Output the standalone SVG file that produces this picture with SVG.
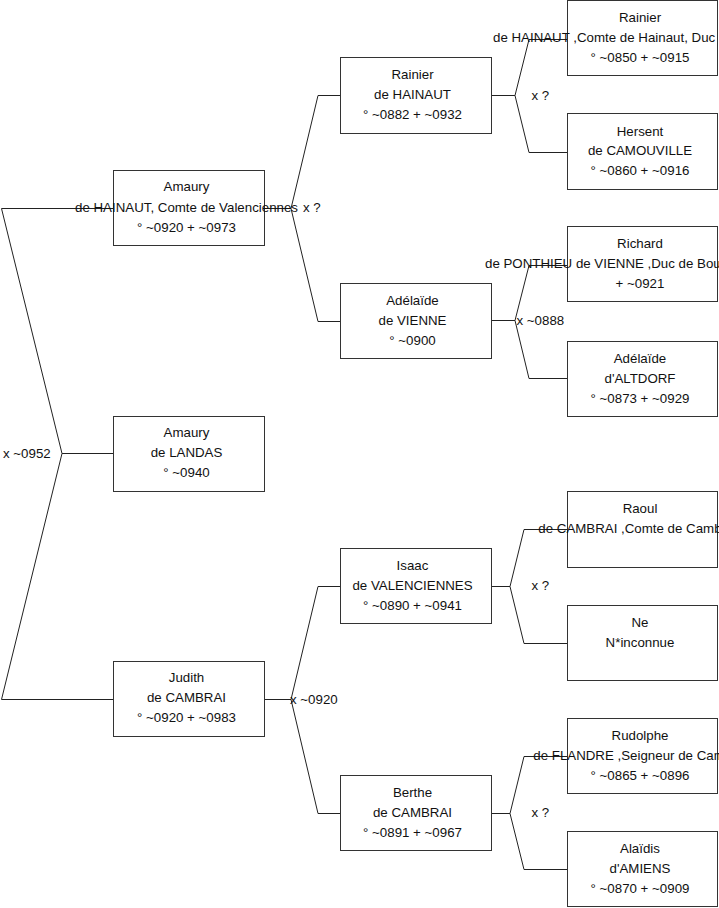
<svg xmlns="http://www.w3.org/2000/svg" width="719" height="908" viewBox="0 0 719 908">
<style>
.box{fill:#fff;stroke:#333;stroke-width:1}
.c{fill:none;stroke:#222;stroke-width:1}
text{font-family:"Liberation Sans",Arial,sans-serif;font-size:13.3px;fill:#111}
.m{text-anchor:middle}
</style>
<rect width="719" height="908" fill="#fff"/>
<g id="connectors">
<polyline class="c" points="113.5,208.5 1.5,208.5 62,453.5 1.5,699.5 113.5,699.5"/>
<line class="c" x1="62" y1="453.5" x2="113.5" y2="453.5"/>
<polyline class="c" points="264.5,208.5 291,208.5"/>
<polyline class="c" points="340.5,95.5 318,95.5 291,208.5 318,321.5 340.5,321.5"/>
<polyline class="c" points="264.5,699.5 291,699.5"/>
<polyline class="c" points="340.5,586.5 318,586.5 291,699.5 318,813.5 340.5,813.5"/>
<polyline class="c" points="491.5,95.5 515,95.5"/>
<polyline class="c" points="567.5,39.5 529,39.5 515,95.5 529,152.5 567.5,152.5"/>
<polyline class="c" points="491.5,320.5 515,320.5"/>
<polyline class="c" points="567.5,265.5 529,265.5 515,320.5 529,378.5 567.5,378.5"/>
<polyline class="c" points="491.5,586.5 510,586.5"/>
<polyline class="c" points="567.5,529.5 524,529.5 510,586.5 524,643.5 567.5,643.5"/>
<polyline class="c" points="491.5,813.5 510,813.5"/>
<polyline class="c" points="567.5,756.5 524,756.5 510,813.5 524,869.5 567.5,869.5"/>
</g>
<g id="labels">
<text x="3" y="457.5">x ~0952</text>
<text x="303" y="212">x ?</text>
<text x="290" y="703.5">x ~0920</text>
<text x="531.5" y="99.5">x ?</text>
<text x="516.5" y="324.5">x ~0888</text>
<text x="531.5" y="589.5">x ?</text>
<text x="531.5" y="816.5">x ?</text>
</g>
<g id="n-amaury-hainaut">
<rect class="box" x="113.5" y="170.5" width="151" height="75"/>
<text class="m" x="186.5" y="191">Amaury</text>
<text class="m" x="186.5" y="211.5">de HAINAUT, Comte de Valenciennes</text>
<text class="m" x="186.5" y="231.5">° ~0920 + ~0973</text>
</g>
<g id="n-amaury-landas">
<rect class="box" x="113.5" y="416.5" width="151" height="75"/>
<text class="m" x="186.5" y="437">Amaury</text>
<text class="m" x="186.5" y="457">de LANDAS</text>
<text class="m" x="186.5" y="477">° ~0940</text>
</g>
<g id="n-judith">
<rect class="box" x="113.5" y="661.5" width="151" height="75"/>
<text class="m" x="186.5" y="682">Judith</text>
<text class="m" x="186.5" y="702">de CAMBRAI</text>
<text class="m" x="186.5" y="722">° ~0920 + ~0983</text>
</g>
<g id="n-rainier-2">
<rect class="box" x="340.5" y="57.5" width="151" height="76"/>
<text class="m" x="412.5" y="79">Rainier</text>
<text class="m" x="412.5" y="99">de HAINAUT</text>
<text class="m" x="412.5" y="119">° ~0882 + ~0932</text>
</g>
<g id="n-adelaide-vienne">
<rect class="box" x="340.5" y="283.5" width="151" height="75"/>
<text class="m" x="412.5" y="304.5">Adélaïde</text>
<text class="m" x="412.5" y="324.5">de VIENNE</text>
<text class="m" x="412.5" y="344.5">° ~0900</text>
</g>
<g id="n-isaac">
<rect class="box" x="340.5" y="548.5" width="151" height="75"/>
<text class="m" x="412.5" y="569.5">Isaac</text>
<text class="m" x="412.5" y="589.5">de VALENCIENNES</text>
<text class="m" x="412.5" y="609.5">° ~0890 + ~0941</text>
</g>
<g id="n-berthe">
<rect class="box" x="340.5" y="775.5" width="151" height="75"/>
<text class="m" x="412.5" y="796.5">Berthe</text>
<text class="m" x="412.5" y="816.5">de CAMBRAI</text>
<text class="m" x="412.5" y="836.5">° ~0891 + ~0967</text>
</g>
<g id="n-rainier-3">
<rect class="box" x="567.5" y="0.5" width="150" height="75"/>
<text class="m" x="640" y="21.5">Rainier</text>
<text x="493" y="41.5">de HAINAUT ,Comte de Hainaut, Duc</text>
<text class="m" x="640" y="61.5">° ~0850 + ~0915</text>
</g>
<g id="n-hersent">
<rect class="box" x="567.5" y="113.5" width="150" height="76"/>
<text class="m" x="640" y="135.5">Hersent</text>
<text class="m" x="640" y="155">de CAMOUVILLE</text>
<text class="m" x="640" y="175">° ~0860 + ~0916</text>
</g>
<g id="n-richard">
<rect class="box" x="567.5" y="226.5" width="150" height="75"/>
<text class="m" x="640" y="248">Richard</text>
<text x="485" y="268">de PONTHIEU de VIENNE ,Duc de Bou</text>
<text class="m" x="640" y="288">+ ~0921</text>
</g>
<g id="n-adelaide-altdorf">
<rect class="box" x="567.5" y="341.5" width="150" height="75"/>
<text class="m" x="640" y="362.5">Adélaïde</text>
<text class="m" x="640" y="382.5">d'ALTDORF</text>
<text class="m" x="640" y="402.5">° ~0873 + ~0929</text>
</g>
<g id="n-raoul">
<rect class="box" x="567.5" y="491.5" width="150" height="76"/>
<text class="m" x="640" y="513">Raoul</text>
<text x="538.3" y="533">de CAMBRAI ,Comte de Camb</text>
</g>
<g id="n-ne">
<rect class="box" x="567.5" y="605.5" width="150" height="75"/>
<text class="m" x="640" y="626.5">Ne</text>
<text class="m" x="640" y="646.5">N*inconnue</text>
</g>
<g id="n-rudolphe">
<rect class="box" x="567.5" y="718.5" width="150" height="75"/>
<text class="m" x="640" y="739.5">Rudolphe</text>
<text x="533.3" y="759.5">de FLANDRE ,Seigneur de Cam</text>
<text class="m" x="640" y="779.5">° ~0865 + ~0896</text>
</g>
<g id="n-alaidis">
<rect class="box" x="567.5" y="831.5" width="150" height="75"/>
<text class="m" x="640" y="852.5">Alaïdis</text>
<text class="m" x="640" y="872.5">d'AMIENS</text>
<text class="m" x="640" y="892.5">° ~0870 + ~0909</text>
</g>
</svg>
